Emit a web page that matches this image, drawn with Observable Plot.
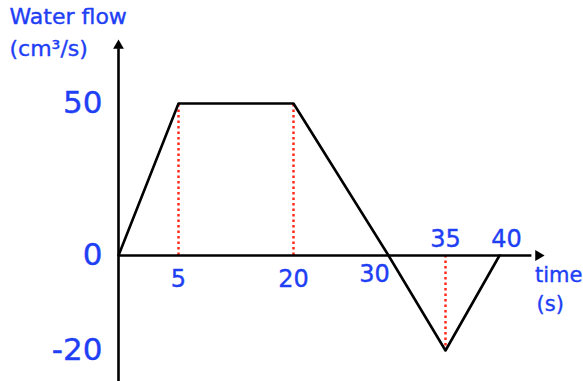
<!DOCTYPE html>
<html><head><meta charset="utf-8">
<script src="https://cdn.jsdelivr.net/npm/d3@7"></script>
<script src="https://cdn.jsdelivr.net/npm/@observablehq/plot@0.6"></script>
<style>body{margin:0;background:#fff}</style>
</head><body><div id="chart"></div>
<script>
const times = [0, 5, 20, 30, 35, 40];
const flows = [0, 50, 50, 0, -20, 0];
const dropTimes = [5, 20, 35];
const xTickLabels = ["5", "20", "30"];
const xTickValues = [5, 20, 30];
const xTickLabelsAbove = ["35", "40"];
const xTickValuesAbove = [35, 40];
const yTickValues = [50, 0, -20];
const yTickLabels = ["50", "0", "-20"];

const blue = "#1f3ff5";
const font = "'DejaVu Sans', sans-serif";
const pts = times.map((t, i) => ({t, f: flows[i]}));
const drops = dropTimes.map(t => ({t, f: flows[times.indexOf(t)]}));

// hand-drawn sketch: axes are not uniformly spaced, so warp through a piecewise transform
const xWarp = d3.scaleLinear().domain([0, 5, 20, 30, 35, 40]).range([0, 60, 175, 270, 327, 381]);
const yWarp = d3.scaleLinear().domain([-20, 0, 50]).range([-95, 0, 152]);

const txt = {fill: blue, stroke: blue, strokeWidth: 0.4};

const chart = Plot.plot({
  width: 583, height: 381,
  margin: 0,
  style: {fontFamily: font, background: "white"},
  x: {transform: xWarp, domain: [0, 381], range: [118, 499], axis: null},
  y: {transform: yWarp, domain: [-95, 152], range: [350, 103], axis: null},
  marks: [
    Plot.ruleX(drops, {x: "t", y1: 0, y2: "f", stroke: "#ff2a1a", strokeWidth: 2.5, strokeDasharray: "2.5,3"}),
    Plot.line(pts, {x: "t", y: "f", stroke: "black", strokeWidth: 2.6}),
    Plot.ruleY([0], {x1: 0, x2: 43, stroke: "black", strokeWidth: 2.6}),
    Plot.ruleX([0], {y1: -27, y2: 68, stroke: "black", strokeWidth: 2.6}),
    Plot.dot([{x: 43.6, y: 0}], {x: "x", y: "y", symbol: "triangle", r: 4, fill: "black", rotate: 90}),
    Plot.dot([{x: 0, y: 69}], {x: "x", y: "y", symbol: "triangle", r: 4, fill: "black"}),
    Plot.text(yTickValues.map((v, i) => ({v, l: yTickLabels[i]})), {x: 0, y: "v", text: "l", dx: -16, textAnchor: "end", fontSize: 31, ...txt}),
    Plot.text(xTickValues.map((v, i) => ({v, l: xTickLabels[i]})), {x: "v", y: 0, text: "l", dy: 24, fontSize: 24, dx: 0, ...txt, filter: d => d.v !== 30}),
    Plot.text(xTickValues.map((v, i) => ({v, l: xTickLabels[i]})), {x: "v", y: 0, text: "l", dy: 19, dx: -14, fontSize: 24, ...txt, filter: d => d.v === 30}),
    Plot.text(xTickValuesAbove.map((v, i) => ({v, l: xTickLabelsAbove[i]})), {x: "v", y: 0, text: "l", dy: -16, dx: 0, fontSize: 24, ...txt, filter: d => d.v === 35}),
    Plot.text(xTickValuesAbove.map((v, i) => ({v, l: xTickLabelsAbove[i]})), {x: "v", y: 0, text: "l", dy: -16, dx: 7, fontSize: 24, ...txt, filter: d => d.v === 40}),
    Plot.text(["Water flow"], {frameAnchor: "top-left", dx: 9, dy: 8, fontSize: 22, textAnchor: "start", ...txt}),
    Plot.text(["(cm³/s)"], {frameAnchor: "top-left", dx: 9, dy: 40, fontSize: 22, textAnchor: "start", ...txt}),
    Plot.text(["time"], {frameAnchor: "top-right", dx: -1, dy: 267, fontSize: 21, textAnchor: "end", ...txt}),
    Plot.text(["(s)"], {frameAnchor: "top-left", dx: 536, dy: 296, fontSize: 21, textAnchor: "start", ...txt})
  ]
});
document.getElementById("chart").append(chart);
</script></body></html>
